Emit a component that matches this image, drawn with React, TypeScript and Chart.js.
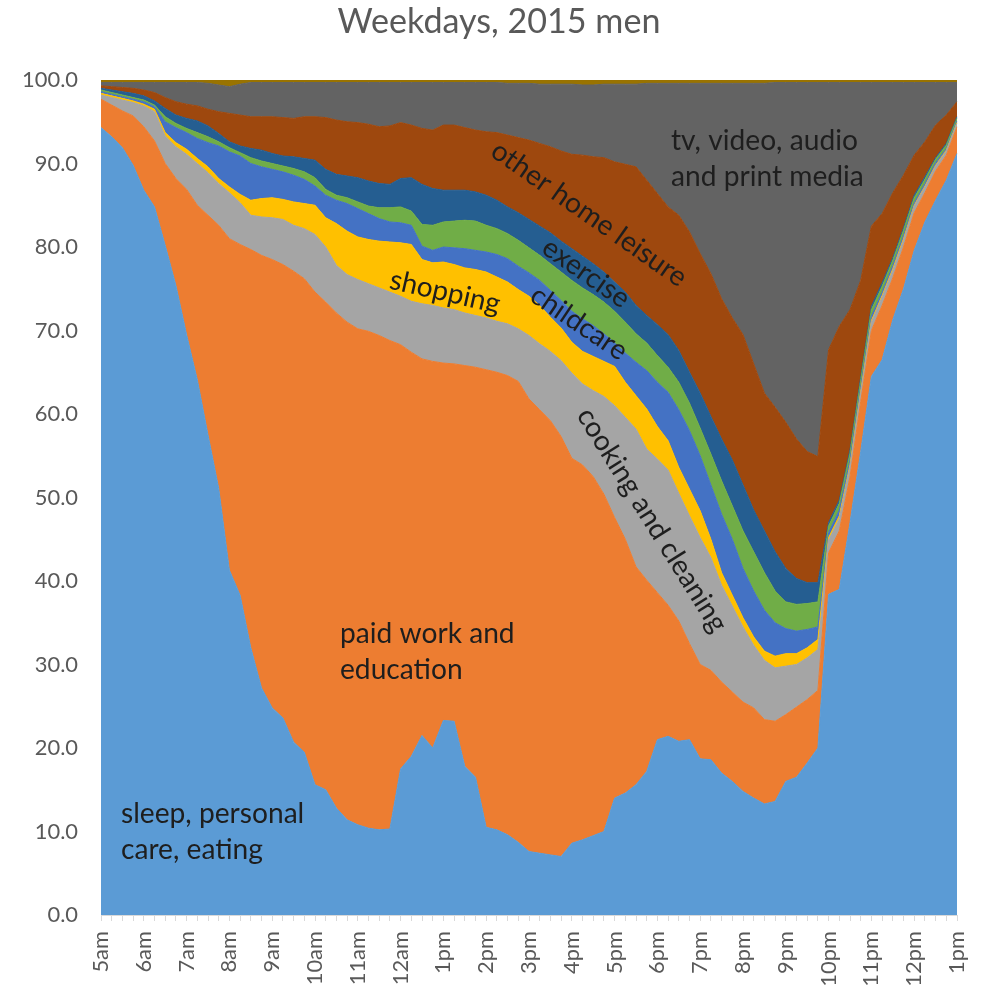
import React, { useEffect, useRef } from 'react';
import { Chart, registerables } from 'chart.js';

Chart.register(...registerables);

// ---- category axis -------------------------------------------------------
const hourLabels = ['5am', '6am', '7am', '8am', '9am', '10am', '11am', '12am', '1pm', '2pm',
  '3pm', '4pm', '5pm', '6pm', '7pm', '8pm', '9pm', '10pm', '11pm', '12pm', '1pm'];
const quarterMarks = [':00', ':15', ':30', ':45'];
const timeSlots: string[] = [];
for (let h = 0; h < hourLabels.length - 1; h++) {
  for (const q of quarterMarks) timeSlots.push(hourLabels[h] + q);
}
timeSlots.push(hourLabels[hourLabels.length - 1] + ':00');

const yTicks = [0, 10, 20, 30, 40, 50, 60, 70, 80, 90, 100];

// ---- series values (percent of men, 15-minute slots) ----------------------
const sleepCareEating = [
  94.3, 93.2, 91.9, 89.8, 86.8, 84.8, 80.2, 75.4, 69.5, 64.1,
  57.5, 51.1, 41.3, 38.3, 32.0, 27.2, 24.8, 23.6, 20.7, 19.5,
  15.6, 15.0, 12.8, 11.4, 10.8, 10.4, 10.2, 10.3, 17.5, 19.0,
  21.5, 20.0, 23.3, 23.2, 17.8, 16.5, 10.5, 10.2, 9.6, 8.7,
  7.6, 7.4, 7.2, 7.0, 8.6, 9.0, 9.5, 10.0, 14.0, 14.6,
  15.6, 17.2, 21.0, 21.4, 20.8, 21.0, 18.7, 18.6, 17.0, 16.0,
  14.8, 14.0, 13.3, 13.6, 16.0, 16.5, 18.2, 20.0, 38.4, 39.0,
  47.0, 55.5, 64.5, 66.5, 71.3, 75.0, 79.6, 83.0, 85.6, 88.0,
  91.2];
const paidWorkEducation = [
  3.4, 3.8, 4.4, 5.9, 7.6, 7.9, 9.8, 12.8, 17.4, 20.9,
  26.3, 31.5, 39.7, 42.0, 47.7, 51.8, 53.7, 54.3, 56.4, 56.7,
  59.0, 58.4, 59.3, 59.6, 59.4, 59.5, 59.2, 58.5, 50.8, 48.4,
  45.1, 46.3, 42.8, 42.8, 48.0, 49.1, 54.8, 54.8, 55.0, 55.2,
  54.2, 53.1, 52.0, 50.3, 46.1, 44.9, 43.0, 40.4, 33.6, 30.4,
  26.1, 22.9, 17.6, 15.7, 14.4, 11.5, 11.3, 10.7, 10.9, 10.7,
  10.7, 10.8, 10.1, 9.6, 8.0, 8.4, 7.6, 6.9, 5.0, 7.0,
  5.5, 6.0, 5.5, 6.5, 5.0, 5.0, 4.5, 3.5, 3.5, 3.0,
  3.2];
const cookingCleaning = [
  0.5, 0.9, 1.3, 1.6, 2.5, 3.5, 3.3, 3.8, 4.2, 5.0,
  5.1, 5.0, 5.5, 5.0, 4.1, 4.6, 5.0, 5.4, 5.5, 6.0,
  6.9, 6.6, 5.7, 5.7, 5.9, 5.7, 5.7, 5.8, 5.8, 6.1,
  6.6, 6.7, 6.6, 6.5, 6.3, 6.2, 6.2, 6.1, 6.2, 6.3,
  7.6, 7.9, 8.3, 9.1, 10.2, 9.7, 10.3, 11.7, 13.4, 14.6,
  16.5, 15.7, 16.0, 16.2, 15.3, 15.3, 15.2, 13.5, 11.6, 10.3,
  9.0, 7.5, 7.1, 6.4, 5.8, 5.1, 5.0, 4.9, 1.5, 1.5,
  1.2, 1.0, 1.0, 1.0, 0.9, 0.8, 0.8, 0.7, 0.6, 0.5,
  0.4];
const shopping = [
  0.2, 0.2, 0.2, 0.2, 0.2, 0.3, 0.4, 0.5, 0.6, 0.6,
  0.7, 0.6, 0.7, 1.0, 1.8, 2.2, 2.4, 2.4, 2.8, 3.0,
  3.5, 3.5, 5.0, 5.2, 5.1, 5.3, 5.6, 6.0, 6.4, 6.8,
  5.3, 5.1, 5.5, 5.4, 5.4, 5.5, 5.5, 5.3, 5.0, 4.7,
  4.7, 4.6, 4.1, 3.9, 3.7, 3.9, 4.1, 4.2, 4.7, 4.2,
  4.0, 4.8, 3.9, 3.5, 3.1, 3.2, 3.2, 2.2, 1.5, 1.3,
  1.1, 1.0, 1.1, 1.4, 1.5, 1.3, 1.2, 1.2, 0.3, 0.3,
  0.2, 0.2, 0.2, 0.2, 0.2, 0.2, 0.1, 0.1, 0.1, 0.1,
  0.1];
const childcare = [
  0.2, 0.2, 0.2, 0.2, 0.3, 0.3, 1.3, 1.8, 2.0, 2.4,
  2.9, 3.9, 4.2, 4.6, 4.4, 3.8, 3.4, 3.3, 3.2, 2.9,
  2.3, 2.7, 2.8, 3.3, 3.4, 3.1, 2.7, 2.4, 2.4, 2.3,
  1.6, 1.5, 1.8, 2.0, 2.3, 2.3, 2.4, 2.7, 2.8, 2.8,
  2.8, 3.0, 3.2, 3.3, 3.7, 3.9, 3.7, 3.3, 2.8, 3.5,
  4.0, 4.6, 5.3, 5.8, 6.9, 7.0, 6.6, 6.5, 7.0, 6.7,
  5.9, 5.5, 4.9, 4.0, 3.0, 2.7, 2.2, 1.5, 0.6, 0.7,
  0.6, 0.5, 0.5, 0.4, 0.4, 0.4, 0.3, 0.3, 0.3, 0.2,
  0.2];
const otherCare = [
  0.2, 0.2, 0.2, 0.2, 0.2, 0.2, 0.6, 0.5, 0.5, 0.7,
  0.7, 0.5, 0.5, 0.4, 0.7, 0.7, 0.7, 0.7, 0.8, 0.9,
  1.0, 0.7, 0.6, 0.7, 0.8, 0.9, 1.3, 1.7, 1.9, 1.7,
  2.6, 3.0, 3.0, 3.2, 3.4, 3.5, 3.2, 3.1, 3.0, 3.1,
  3.0, 3.0, 3.2, 3.4, 3.7, 3.7, 3.7, 3.8, 3.8, 3.7,
  3.4, 3.3, 3.2, 3.0, 3.3, 3.3, 3.3, 3.7, 4.0, 4.0,
  4.5, 4.7, 4.5, 3.8, 3.2, 3.2, 3.1, 3.0, 0.8, 0.8,
  0.8, 0.8, 0.8, 0.7, 0.6, 0.6, 0.6, 0.5, 0.4, 0.4,
  0.3];
const exercise = [
  0.2, 0.3, 0.4, 0.5, 0.5, 0.5, 1.0, 1.0, 1.2, 1.4,
  1.3, 1.0, 0.7, 0.8, 1.1, 1.3, 1.2, 1.2, 1.4, 1.6,
  2.1, 2.4, 2.5, 2.6, 2.9, 3.0, 2.9, 2.8, 3.4, 4.0,
  4.8, 4.4, 3.8, 3.7, 3.6, 3.5, 3.6, 3.4, 3.2, 3.3,
  3.4, 3.5, 3.7, 3.7, 3.8, 3.8, 3.7, 3.6, 3.5, 3.6,
  3.4, 3.3, 3.7, 3.9, 3.8, 3.7, 4.2, 4.5, 5.0, 5.5,
  5.5, 5.0, 5.0, 4.7, 4.0, 3.1, 2.5, 2.3, 0.4, 0.4,
  0.4, 0.4, 0.4, 0.4, 0.3, 0.3, 0.3, 0.3, 0.2, 0.2,
  0.2];
const otherHomeLeisure = [
  0.3, 0.4, 0.5, 0.6, 0.7, 1.0, 1.3, 1.6, 1.7, 1.8,
  2.0, 2.6, 3.4, 3.7, 3.8, 4.0, 4.4, 4.6, 4.6, 5.0,
  5.2, 6.2, 6.5, 6.5, 6.6, 6.8, 6.8, 7.0, 6.7, 6.3,
  6.7, 7.0, 7.8, 7.8, 7.5, 7.4, 7.6, 8.1, 8.6, 9.0,
  9.5, 9.9, 10.3, 10.8, 11.3, 12.1, 12.8, 13.7, 14.4, 15.3,
  16.6, 16.2, 15.7, 15.3, 16.2, 16.8, 16.7, 17.1, 16.8, 17.0,
  18.0, 17.5, 16.5, 17.3, 17.5, 16.7, 15.7, 15.1, 20.7, 20.8,
  16.8, 11.6, 9.6, 8.3, 7.8, 6.3, 4.8, 4.2, 3.9, 3.4,
  1.8];
const tvVideoAudioPrint = [
  0.4, 0.5, 0.6, 0.7, 0.9, 1.2, 1.8, 2.3, 2.6, 2.8,
  3.1, 3.2, 3.2, 3.7, 4.1, 4.1, 4.1, 4.2, 4.3, 4.1,
  4.1, 4.2, 4.5, 4.7, 4.8, 5.0, 5.3, 5.2, 4.8, 5.1,
  5.5, 5.7, 5.1, 5.1, 5.4, 5.7, 5.9, 6.0, 6.2, 6.5,
  6.8, 7.1, 7.5, 8.0, 8.4, 8.4, 8.6, 8.8, 9.3, 9.6,
  9.9, 11.6, 13.2, 14.8, 15.8, 17.8, 20.4, 22.8, 25.8, 28.1,
  30.1, 33.6, 37.1, 38.9, 40.7, 42.7, 44.2, 44.8, 32.0, 29.2,
  27.2, 23.7, 17.2, 15.7, 13.2, 11.1, 8.7, 7.1, 5.1, 3.9,
  2.3];
const otherActivities = [
  0.3, 0.3, 0.3, 0.3, 0.3, 0.3, 0.3, 0.3, 0.3, 0.3,
  0.4, 0.6, 0.8, 0.5, 0.3, 0.3, 0.3, 0.3, 0.3, 0.3,
  0.3, 0.3, 0.3, 0.3, 0.3, 0.3, 0.3, 0.3, 0.3, 0.3,
  0.3, 0.3, 0.3, 0.3, 0.3, 0.3, 0.3, 0.3, 0.4, 0.4,
  0.4, 0.5, 0.5, 0.5, 0.5, 0.6, 0.6, 0.5, 0.5, 0.5,
  0.5, 0.4, 0.4, 0.4, 0.4, 0.4, 0.4, 0.4, 0.4, 0.4,
  0.4, 0.4, 0.4, 0.3, 0.3, 0.3, 0.3, 0.3, 0.3, 0.3,
  0.3, 0.3, 0.3, 0.3, 0.3, 0.3, 0.3, 0.3, 0.3, 0.3,
  0.3];

const seriesNames = ['sleep, personal care, eating', 'paid work and education', 'cooking and cleaning',
  'shopping', 'childcare', 'other care', 'exercise', 'other home leisure',
  'tv, video, audio and print media', 'other'];
const seriesValues = [sleepCareEating, paidWorkEducation, cookingCleaning, shopping, childcare,
  otherCare, exercise, otherHomeLeisure, tvVideoAudioPrint, otherActivities];
const seriesColors = ['#5B9BD5', '#ED7D31', '#A5A5A5', '#FFC000', '#4472C4',
  '#70AD47', '#255E91', '#9E480E', '#636363', '#997300'];

const chartTitle = 'Weekdays, 2015 men';

// in-chart text labels (text boxes placed over the areas)
const areaLabels = [
  { lines: ['tv, video, audio', 'and print media'], x: 671, y: 150, angle: 0, align: 'left' },
  { lines: ['other home leisure'], x: 589, y: 214, angle: 35, align: 'center' },
  { lines: ['exercise'], x: 586, y: 273, angle: 35, align: 'center' },
  { lines: ['childcare'], x: 579, y: 323, angle: 34, align: 'center' },
  { lines: ['shopping'], x: 445, y: 292, angle: 13, align: 'center' },
  { lines: ['cooking and cleaning'], x: 652, y: 520, angle: 58, align: 'center' },
  { lines: ['paid work and', 'education'], x: 340, y: 643, angle: 0, align: 'left' },
  { lines: ['sleep, personal', 'care, eating'], x: 121, y: 823, angle: 0, align: 'left' },
];

const FONT = 'Lato, "Open Sans", sans-serif';

function fitSize(text: string, width: number, weight = 'normal'): number {
  const c = document.createElement('canvas').getContext('2d') as CanvasRenderingContext2D;
  c.font = `${weight} 100px ${FONT}`;
  return (100 * width) / c.measureText(text).width;
}

export default function App() {
  const ref = useRef<HTMLCanvasElement | null>(null);

  useEffect(() => {
    document.body.style.margin = '0';
    const canvas = ref.current;
    if (!canvas) return;

    const tickSize = fitSize('100.0', 56);
    const titleSize = fitSize(chartTitle, 323);
    const labelSize = fitSize('tv, video, audio', 187);

    const overlay = {
      id: 'overlayText',
      afterDraw(chart: any) {
        const ctx: CanvasRenderingContext2D = chart.ctx;
        ctx.save();
        ctx.fillStyle = '#595959';
        ctx.font = `normal ${titleSize}px ${FONT}`;
        ctx.textAlign = 'center';
        ctx.textBaseline = 'alphabetic';
        ctx.fillText(chartTitle, 499, 33);

        ctx.fillStyle = '#1e1e1e';
        ctx.font = `normal ${labelSize}px ${FONT}`;
        for (const lab of areaLabels) {
          ctx.save();
          ctx.translate(lab.x, lab.y);
          ctx.rotate((lab.angle * Math.PI) / 180);
          if (lab.align === 'left') {
            ctx.textAlign = 'left';
            ctx.textBaseline = 'alphabetic';
            lab.lines.forEach((t, k) => ctx.fillText(t, 0, k * 36));
          } else {
            ctx.textAlign = 'center';
            ctx.textBaseline = 'middle';
            ctx.fillText(lab.lines[0], 0, 0);
          }
          ctx.restore();
        }
        ctx.restore();
      },
    };

    const chart = new Chart(canvas, {
      type: 'line',
      data: {
        labels: timeSlots,
        datasets: seriesValues.map((vals, i) => ({
          label: seriesNames[i],
          data: vals,
          backgroundColor: seriesColors[i],
          borderColor: seriesColors[i],
          borderWidth: 1,
          pointRadius: 0,
          pointHoverRadius: 0,
          tension: 0,
          fill: i === 0 ? 'origin' : '-1',
        })),
      },
      options: {
        animation: false,
        responsive: false,
        devicePixelRatio: 1,
        events: [],
        layout: { padding: { top: 80, right: 24, bottom: 0, left: 0 } },
        plugins: {
          legend: { display: false },
          tooltip: { enabled: false },
          title: { display: false },
        },
        scales: {
          x: {
            type: 'category',
            offset: false,
            grid: { display: true, drawOnChartArea: false, drawTicks: true, tickLength: 6, color: '#d9d9d9' },
            border: { display: true, color: '#d9d9d9' },
            ticks: {
              autoSkip: false,
              maxRotation: 90,
              minRotation: 90,
              padding: 10,
              color: '#595959',
              font: { family: FONT, size: tickSize },
              callback: (_v: any, idx: number) => (idx % 4 === 0 ? hourLabels[idx / 4] : ''),
            },
            afterFit: (s: any) => {
              s.height = 82;
              s.paddingLeft = 0;
              s.paddingRight = 0;
            },
          },
          y: {
            stacked: true,
            min: yTicks[0],
            max: yTicks[yTicks.length - 1],
            grid: { display: false, drawTicks: false },
            border: { display: false },
            ticks: {
              stepSize: yTicks[1] - yTicks[0],
              padding: 23,
              color: '#595959',
              font: { family: FONT, size: tickSize },
              callback: (v: any) => Number(v).toFixed(1),
            },
            afterFit: (s: any) => { s.width = 101; },
          },
        },
      } as any,
      plugins: [overlay],
    });

    return () => chart.destroy();
  }, []);

  return (
    <div style={{ width: 981, height: 997 }}>
      <canvas ref={ref} width={981} height={997} style={{ display: 'block', width: 981, height: 997 }} />
    </div>
  );
}
